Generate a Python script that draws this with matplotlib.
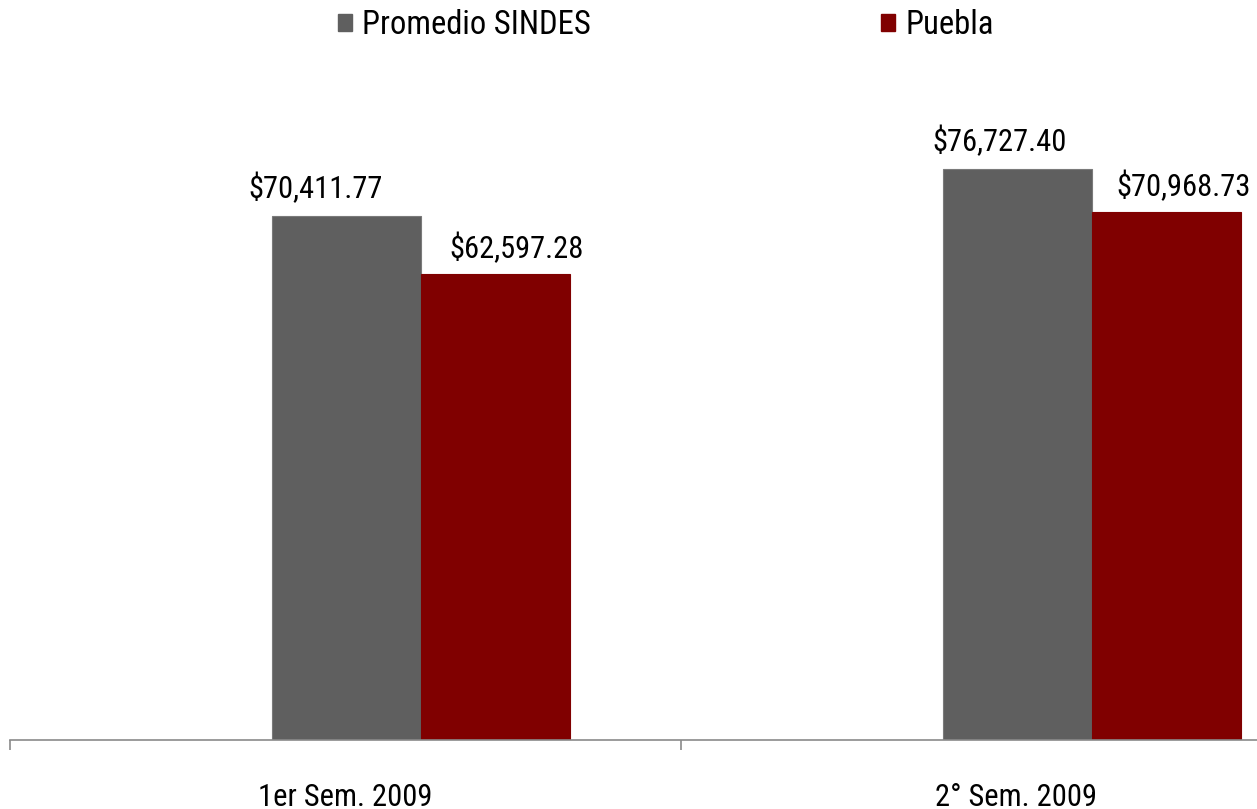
import numpy as np
import matplotlib.pyplot as plt
from matplotlib.patches import Patch

# Data
categories = ["1er Sem. 2009", "2° Sem. 2009"]
series_names = ["Promedio SINDES", "Puebla"]
promedio = [70411.77, 76727.40]
puebla = [62597.28, 70968.73]

colors = ["#5f5f5f", "#800000"]

# data labels were nudged by hand in the original (pixels, x)
lbl_dx_prom = [-31, -18]
lbl_dx_pueb = [21, 17]

plt.rcParams['font.family'] = ['Roboto Condensed', 'Liberation Sans', 'DejaVu Sans']

W, H = 1257, 809
fig = plt.figure(figsize=(W / 100, H / 100), dpi=100)

# axes runs past the right edge, like the original slide crop
ax_left, ax_right = 10, 1352
ax_bottom = 740
ymax = 90000
px_per_unit = 524 / 70411.77
ax_h = ymax * px_per_unit
ax = fig.add_axes([ax_left / W, (H - ax_bottom) / H, (ax_right - ax_left) / W, ax_h / H])
unit_x = len(categories) / (ax_right - ax_left)  # data units per pixel

x = np.arange(len(categories))
bw = 0.222
ax.bar(x + 0.39, promedio, width=bw, align='edge', color=colors[0], edgecolor="#7a7a7a", linewidth=0.8)
ax.bar(x + 0.612, puebla, width=bw, align='edge', color=colors[1], edgecolor=colors[1], linewidth=0.8)

for i in range(len(categories)):
    ax.text(x[i] + 0.39 + bw / 2 + lbl_dx_prom[i] * unit_x, promedio[i] + 18 / px_per_unit,
            "${:,.2f}".format(promedio[i]), ha='center', va='baseline', fontsize=22)
    ax.text(x[i] + 0.612 + bw / 2 + lbl_dx_pueb[i] * unit_x, puebla[i] + 16 / px_per_unit,
            "${:,.2f}".format(puebla[i]), ha='center', va='baseline', fontsize=22)

ax.set_xlim(0, len(categories))
ax.set_ylim(0, ymax)
for s in ['top', 'right', 'left']:
    ax.spines[s].set_visible(False)
ax.spines['bottom'].set_color('#8a8a8a')
ax.spines['bottom'].set_linewidth(1.2)
ax.set_yticks([])
ax.set_xticks([0, 1, 2])
ax.set_xticklabels([])
ax.tick_params(axis='x', length=7, color='#8a8a8a', width=1.2, direction='out')
for i, c in enumerate(categories):
    ax.text(i + 0.5, -57 / px_per_unit, c, ha='center', va='center', fontsize=22)

# Legend
handles = [Patch(facecolor=colors[0], edgecolor=colors[0]), Patch(facecolor=colors[1], edgecolor=colors[1])]
fig.legend(handles, series_names, loc='center left', bbox_to_anchor=(338 / W, 1 - 25 / H), ncol=2,
           frameon=False, fontsize=23.5, handlelength=0.43, handleheight=0.43,
           handletextpad=0.3, columnspacing=8.9, borderpad=0, borderaxespad=0)

fig.savefig("out.png", dpi=100)
